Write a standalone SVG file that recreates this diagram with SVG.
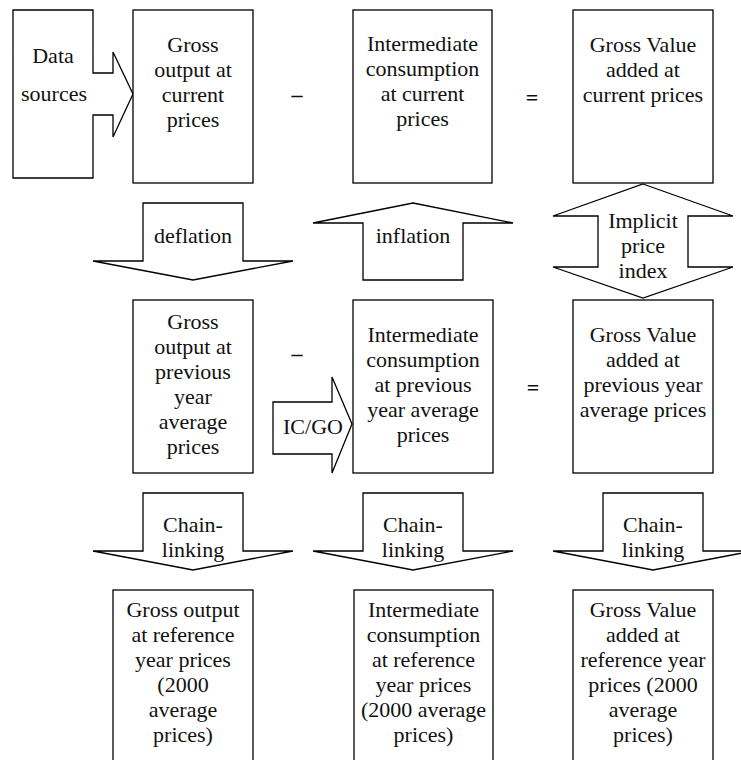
<svg xmlns="http://www.w3.org/2000/svg" width="741" height="760" viewBox="0 0 741 760">
<style>
.b{fill:#fff;stroke:#000;stroke-width:1.3}
.t{font-family:"Liberation Serif","Times New Roman",serif;font-size:22px;fill:#111;text-anchor:middle}
.op{font-weight:bold}
</style>
<rect width="741" height="760" fill="#fff"/>
<g id="connectors">
<g id="data-arrow"><polygon class="b" points="13,10 93,10 93,73 113,73 113,52 133,94 113,137 113,115 93,115 93,178 13,178"/>
<text class="t" x="53" y="63">Data</text><text class="t" x="54" y="101">sources</text></g>
<g id="deflation"><polygon class="b" points="143,203 243,203 243,261 293,261 193,280 93,261 143,261"/>
<text class="t" x="193" y="243">deflation</text></g>
<g id="inflation"><polygon class="b" points="413,203 513,223 463,223 463,280 363,280 363,223 313,223"/>
<text class="t" x="413" y="243">inflation</text></g>
<g id="implicit"><polygon class="b" points="643,184 733,216 688,216 688,267 733,267 643,298 553,267 598,267 598,216 553,216"/>
<text class="t" x="643" y="228">Implicit</text><text class="t" x="643" y="253">price</text><text class="t" x="643" y="278">index</text></g>
<g id="icgo"><polygon class="b" points="273,402 332,402 332,377 352,424 332,473 332,454 273,454"/>
<text class="t" x="313" y="434">IC/GO</text></g>
<g id="chain1"><polygon class="b" points="143,493 243,493 243,551 293,551 193,570 93,551 143,551"/>
<text class="t" x="193" y="532">Chain-</text><text class="t" x="193" y="557">linking</text></g>
<g id="chain2"><polygon class="b" points="363,493 463,493 463,551 513,551 413,570 313,551 363,551"/>
<text class="t" x="413" y="532">Chain-</text><text class="t" x="413" y="557">linking</text></g>
<g id="chain3"><polygon class="b" points="603,493 703,493 703,551 753,551 653,570 553,551 603,551"/>
<text class="t" x="653" y="532">Chain-</text><text class="t" x="653" y="557">linking</text></g>
<g id="operators">
<text class="t op" x="297" y="102">–</text><text class="t op" x="532" y="105">=</text>
<text class="t op" x="297" y="361">–</text><text class="t op" x="533" y="395">=</text>
</g>
</g>
<g id="go-current"><rect class="b" x="133" y="10" width="120" height="173"/>
<text class="t" x="193" y="52">Gross</text><text class="t" x="193" y="77">output at</text><text class="t" x="193" y="102">current</text><text class="t" x="193" y="127">prices</text></g>
<g id="ic-current"><rect class="b" x="353" y="10" width="139" height="173"/>
<text class="t" x="422.5" y="51">Intermediate</text><text class="t" x="422.5" y="76">consumption</text><text class="t" x="422.5" y="101">at current</text><text class="t" x="422.5" y="126">prices</text></g>
<g id="gva-current"><rect class="b" x="573" y="10" width="140" height="173"/>
<text class="t" x="643" y="52">Gross Value</text><text class="t" x="643" y="77">added at</text><text class="t" x="643" y="102">current prices</text></g>
<g id="go-prev"><rect class="b" x="133" y="300" width="120" height="173"/>
<text class="t" x="193" y="329">Gross</text><text class="t" x="193" y="354">output at</text><text class="t" x="193" y="379">previous</text><text class="t" x="193" y="404">year</text><text class="t" x="193" y="429">average</text><text class="t" x="193" y="454">prices</text></g>
<g id="ic-prev"><rect class="b" x="353" y="300" width="140" height="173"/>
<text class="t" x="423" y="342">Intermediate</text><text class="t" x="423" y="367">consumption</text><text class="t" x="423" y="392">at previous</text><text class="t" x="423" y="417">year average</text><text class="t" x="423" y="442">prices</text></g>
<g id="gva-prev"><rect class="b" x="573" y="300" width="140" height="173"/>
<text class="t" x="643" y="342">Gross Value</text><text class="t" x="643" y="367">added at</text><text class="t" x="643" y="392">previous year</text><text class="t" x="643" y="417">average prices</text></g>
<g id="go-ref"><rect class="b" x="113" y="590" width="140" height="180"/>
<text class="t" x="183" y="617">Gross output</text><text class="t" x="183" y="642">at reference</text><text class="t" x="183" y="667">year prices</text><text class="t" x="183" y="692">(2000</text><text class="t" x="183" y="717">average</text><text class="t" x="183" y="742">prices)</text></g>
<g id="ic-ref"><rect class="b" x="354" y="590" width="139" height="180"/>
<text class="t" x="423.5" y="617">Intermediate</text><text class="t" x="423.5" y="642">consumption</text><text class="t" x="423.5" y="667">at reference</text><text class="t" x="423.5" y="692">year prices</text><text class="t" x="423.5" y="717">(2000 average</text><text class="t" x="423.5" y="742">prices)</text></g>
<g id="gva-ref"><rect class="b" x="573" y="590" width="140" height="180"/>
<text class="t" x="643" y="617">Gross Value</text><text class="t" x="643" y="642">added at</text><text class="t" x="643" y="667">reference year</text><text class="t" x="643" y="692">prices (2000</text><text class="t" x="643" y="717">average</text><text class="t" x="643" y="742">prices)</text></g>
</svg>
